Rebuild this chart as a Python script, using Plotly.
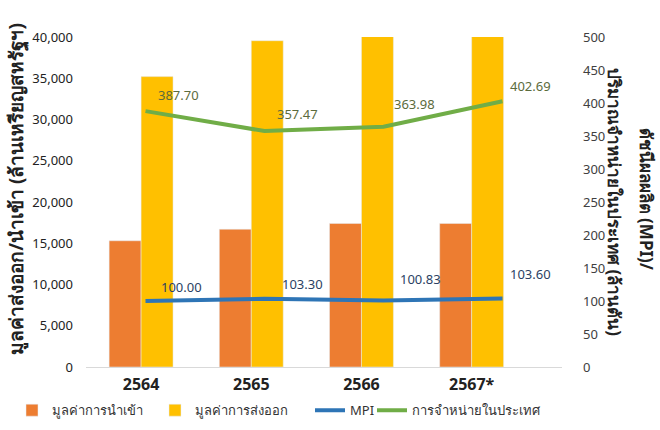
import plotly.graph_objects as go

years = ["2564", "2565", "2566", "2567*"]
imports = [15300, 16700, 17400, 17400]        # มูลค่าการนำเข้า (ล้านเหรียญสหรัฐฯ)
exports = [35200, 39550, 40600, 41800]        # มูลค่าการส่งออก (ล้านเหรียญสหรัฐฯ)
mpi = [100.00, 103.30, 100.83, 103.60]
domestic = [387.70, 357.47, 363.98, 402.69]

left_ticks = [0, 5000, 10000, 15000, 20000, 25000, 30000, 35000, 40000]
right_ticks = [0, 50, 100, 150, 200, 250, 300, 350, 400, 450, 500]

FONT = "Noto Sans, Tahoma, sans-serif"
ORANGE = "#ED7D31"
YELLOW = "#FFC000"
BLUE = "#2E75B6"
GREEN = "#70AD47"

fig = go.Figure()

# each series gets its own legend box so the row spacing matches
fig.add_trace(go.Bar(x=years, y=imports, name="มูลค่าการนำเข้า",
                     marker_color=ORANGE, xaxis="x", yaxis="y", legend="legend"))
fig.add_trace(go.Bar(x=years, y=exports, name="มูลค่าการส่งออก",
                     marker_color=YELLOW, xaxis="x", yaxis="y", legend="legend2"))
fig.add_trace(go.Scatter(x=years, y=mpi, name="MPI", mode="lines",
                         line=dict(color=BLUE, width=4), xaxis="x2", yaxis="y2",
                         legend="legend3"))
fig.add_trace(go.Scatter(x=years, y=domestic, name="การจำหน่ายในประเทศ", mode="lines",
                         line=dict(color=GREEN, width=4), xaxis="x2", yaxis="y2",
                         legend="legend4"))

# data labels
green_shift = [(33, 16), (33, 17), (31, 23), (28, 15)]
blue_shift = [(36, 14), (38, 15), (37, 21), (28, 25)]
for i in range(len(years)):
    fig.add_annotation(x=i, y=domestic[i], xref="x2", yref="y2", text=f"{domestic[i]:.2f}",
                       showarrow=False, xshift=green_shift[i][0], yshift=green_shift[i][1],
                       font=dict(size=13, color="#5b6b3c", family=FONT))
    fig.add_annotation(x=i, y=mpi[i], xref="x2", yref="y2", text=f"{mpi[i]:.2f}",
                       showarrow=False, xshift=blue_shift[i][0], yshift=blue_shift[i][1],
                       font=dict(size=13, color="#2b3f63", family=FONT))

# axis titles
title_font = dict(size=19, color="#222222", family=FONT)
fig.add_annotation(text="<b>มูลค่าส่งออก/นำเข้า (ล้านเหรียญสหรัฐฯ)</b>", textangle=-90,
                   xref="paper", yref="paper", x=-0.145, xanchor="center",
                   y=0.54, yanchor="middle", showarrow=False, font=title_font)
fig.add_annotation(text="<b>ดัชนีผลผลิต (MPI)/</b>", textangle=90,
                   xref="paper", yref="paper", x=1.1765, xanchor="center",
                   y=0.51, yanchor="middle", showarrow=False, font=dict(title_font, size=17))
fig.add_annotation(text="<b>ปริมาณจำหน่ายในประเทศ (ล้านตัน)</b>", textangle=90,
                   xref="paper", yref="paper", x=1.111, xanchor="center",
                   y=0.5, yanchor="middle", showarrow=False, font=dict(title_font, size=17))

legend_style = dict(orientation="h", xref="container", yref="container",
                    xanchor="left", y=0.046, yanchor="middle",
                    bgcolor="rgba(0,0,0,0)",
                    font=dict(size=13, color="#333333", family=FONT))

fig.update_layout(
    width=660, height=430,
    margin=dict(l=86, r=98, t=37, b=63, autoexpand=False),
    plot_bgcolor="white", paper_bgcolor="white",
    font=dict(family=FONT, color="#333333"),
    barmode="group", bargap=0.42, bargroupgap=0,
    showlegend=True,
    legend=dict(legend_style, x=12 / 660),
    legend2=dict(legend_style, x=155 / 660),
    legend3=dict(legend_style, x=310 / 660),
    legend4=dict(legend_style, x=372 / 660),
    xaxis=dict(type="category", range=[-0.5, 3.82], showline=False, showgrid=False,
               ticks="", tickfont=dict(size=16, color="#222222", family=FONT),
               tickprefix="<b>", ticksuffix="</b>", ticklabelstandoff=6),
    xaxis2=dict(type="category", overlaying="x", range=[-0.5, 3.5], visible=False),
    yaxis=dict(range=[0, 40000], tickvals=left_ticks, tickformat=",", showgrid=False,
               zeroline=True, zerolinecolor="#d9d9d9", zerolinewidth=1,
               tickfont=dict(size=13, color="#222222", family=FONT),
               tickprefix="<b>", ticksuffix="</b>", ticklabelstandoff=12),
    yaxis2=dict(range=[0, 500], tickvals=right_ticks, overlaying="y", side="right",
                showgrid=False, zeroline=False,
                tickfont=dict(size=13, color="#404040", family=FONT), ticklabelstandoff=20),
)

# the page's default body margin would shift the whole chart by 8px
fig.write_html("out.html", config={"displayModeBar": False},
               post_script="document.body.style.margin='0';")
